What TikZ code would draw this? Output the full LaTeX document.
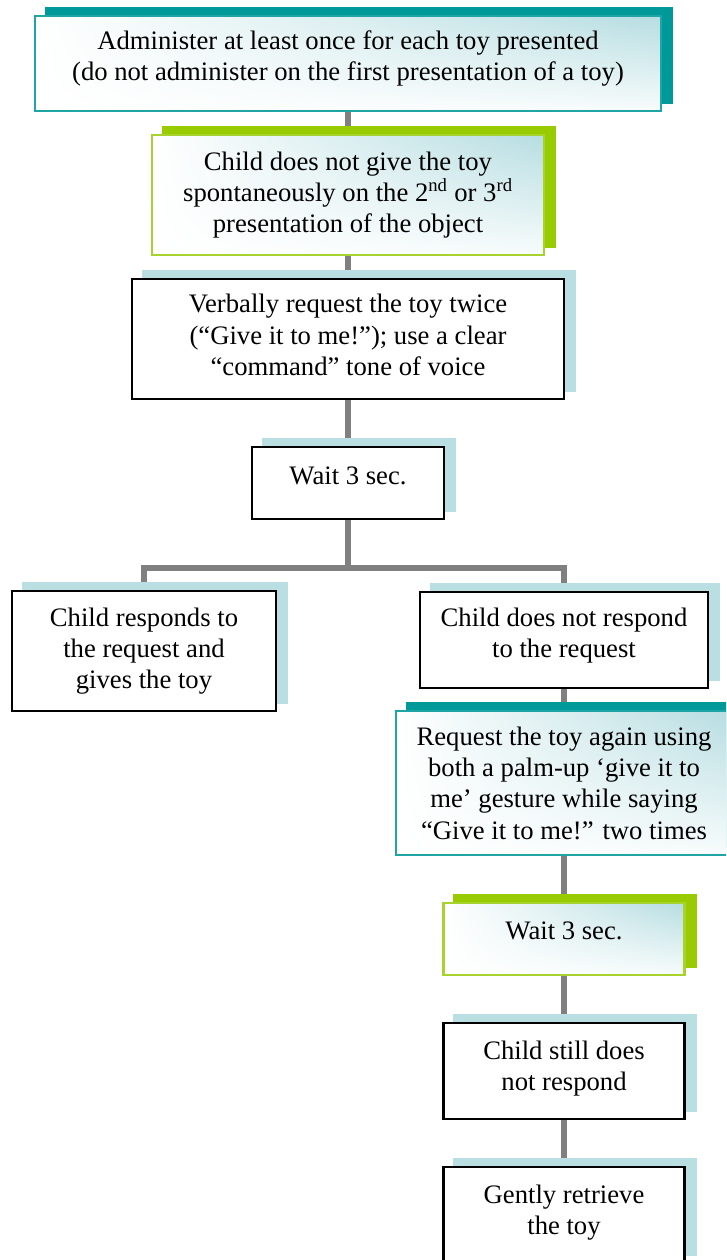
\documentclass[tikz,border=0pt]{standalone}
\usepackage{fontspec}
\setmainfont{Liberation Serif}
\usepackage{xcolor}
\usepackage{tikz}
\usetikzlibrary{backgrounds,shadings}

\definecolor{tealshade}{HTML}{009999}
\definecolor{tealline}{HTML}{1FA5A5}
\definecolor{greenshade}{HTML}{99CC00}
\definecolor{greenline}{HTML}{A8D22E}
\definecolor{blueshade}{HTML}{B9DFE3}
\definecolor{fadeblue}{HTML}{B6DDE1}
\definecolor{linkgray}{HTML}{808080}

% extra depth under the last line, pushes the text up a little
\newcommand{\lift}[1]{\rule[-#1]{0pt}{#1}}

\tikzset{
  box/.style={rectangle, inner sep=0pt, align=center, font=\fontsize{20}{23.5}\selectfont},
  plainbox/.style={box, draw=black, line width=1.9pt, fill=white},
  tealbox/.style={box, draw=tealline, line width=1.5pt, upper left=white, upper right=fadeblue, lower left=white, lower right=white!90!fadeblue},
  greenbox/.style={box, draw=greenline, line width=1.8pt, upper left=white, upper right=fadeblue, lower left=white, lower right=white!90!fadeblue},
  link/.style={draw=linkgray, line width=4pt},
}

\begin{document}
\begin{tikzpicture}[x=0.75pt,y=0.75pt,yscale=-1,xscale=1]

\useasboundingbox (0,0) rectangle (726,1260);
\clip (0,0) rectangle (726,1260);

% main column
\node[tealbox, minimum width=469.5pt, minimum height=71.25pt] (adm) at (348,63.5)
  {Administer at least once for each toy presented\\(do not administer on the first presentation of a toy)\lift{12pt}};

\node[greenbox, minimum width=294pt, minimum height=90pt] (nogive) at (348,195)
  {Child does not give the toy\\spontaneously on the 2\textsuperscript{nd} or 3\textsuperscript{rd}\\presentation of the object};

\node[plainbox, minimum width=324pt, minimum height=90pt] (verbal) at (348,339)
  {Verbally request the toy twice\\(``Give it to me!''); use a clear\\``command'' tone of voice\lift{6pt}};

\node[plainbox, minimum width=144pt, minimum height=54pt] (wait1) at (348,483)
  {Wait 3 sec.\lift{10.5pt}};

\coordinate (split) at (348,568);

% two answers
\node[plainbox, minimum width=198pt, minimum height=90pt] (respond) at (144,651)
  {Child responds to\\the request and\\gives the toy};

\node[plainbox, minimum width=216pt, minimum height=72pt] (noresp) at (564,640)
  {Child does not respond\\to the request\lift{10.5pt}};

% right column
\node[tealbox, minimum width=252pt, minimum height=108pt] (again) at (564,783)
  {Request the toy again using\\both a palm-up `give it to\\me' gesture while saying\\``Give it to me!'' two times};

\node[greenbox, minimum width=180.75pt, minimum height=54pt] (wait2) at (564,939)
  {Wait 3 sec.\lift{12pt}};

\node[plainbox, minimum width=180.75pt, minimum height=72pt] (still) at (564,1071)
  {Child still does\\not respond\lift{8pt}};

\node[plainbox, minimum width=180.75pt, minimum height=72pt] (gently) at (564,1215)
  {Gently retrieve\\the toy\lift{8pt}};

\begin{scope}[on background layer]
\clip (0,0) rectangle (726,1260);
% connectors
\draw[link] (adm) -- (nogive);
\draw[link] (nogive) -- (verbal);
\draw[link] (verbal) -- (wait1);
\draw[link] (wait1) -- (split);
\draw[link] (respond.north) |- (split) -| (noresp.north);
\draw[link] (noresp) -- (again);
\draw[link] (again) -- (wait2);
\draw[link] (wait2) -- (still);
\draw[link] (still) -- (gently);
% shadows
\foreach \n/\c in {adm/tealshade, nogive/greenshade, verbal/blueshade, wait1/blueshade,
    respond/blueshade, noresp/blueshade, again/tealshade, wait2/greenshade,
    still/blueshade, gently/blueshade}
  \fill[\c] ([shift={(11,-8)}]\n.north west) rectangle ([shift={(11,-8)}]\n.south east);
\end{scope}

\end{tikzpicture}
\end{document}
